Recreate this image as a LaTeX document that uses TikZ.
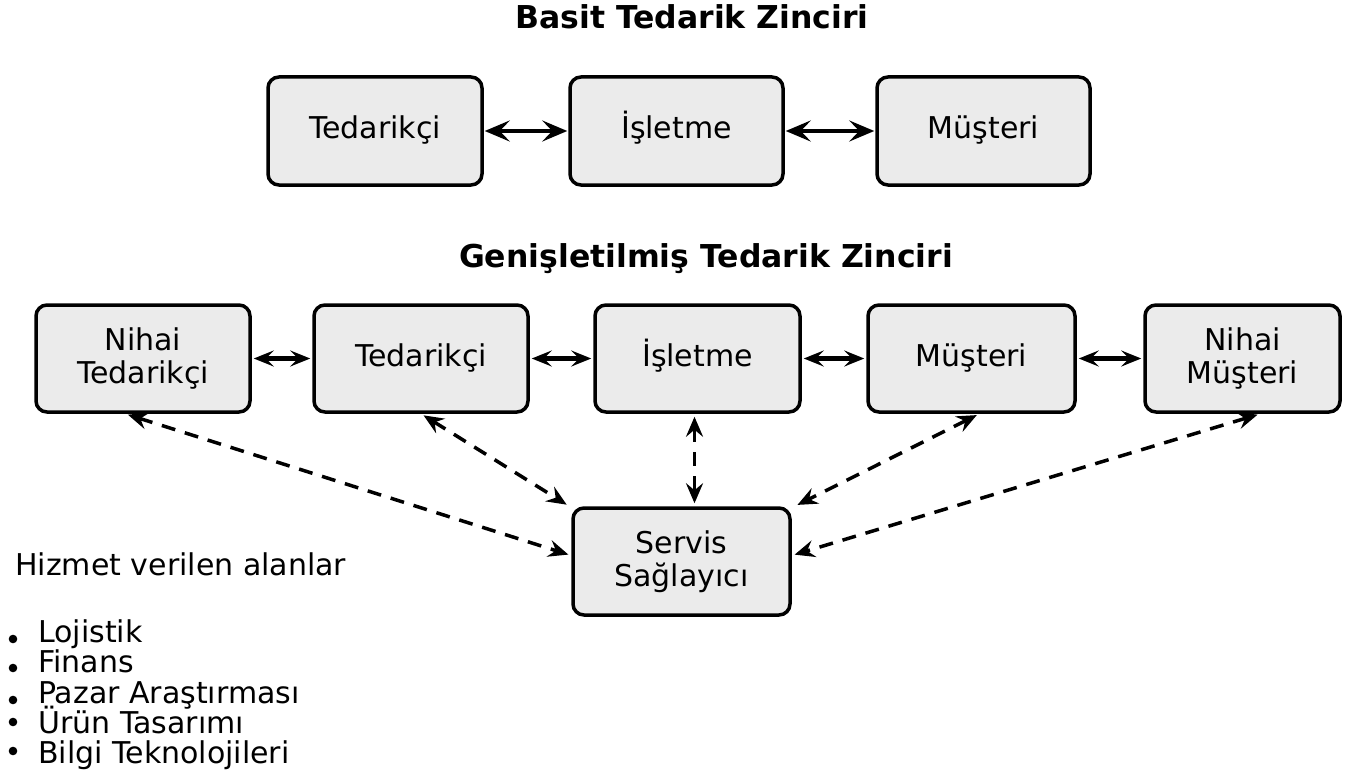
\documentclass[tikz,border=0pt]{standalone}
\usepackage{fontspec}
\setmainfont{DejaVu Sans}
\usetikzlibrary{arrows.meta}
\definecolor{boxfill}{HTML}{EBEBEB}
\tikzset{
  box/.style={draw=black, line width=3.5pt, fill=boxfill, rounded corners=11pt, align=center,
    font=\fontsize{30}{33}\selectfont, inner sep=0pt},
  one/.style={text height=22pt, text depth=7pt},
  ttl/.style={font=\fontsize{31.5}{34}\selectfont\bfseries, anchor=base, inner sep=0pt},
  tipbig/.tip={Stealth[length=25pt,width=21pt,inset=10pt]},
  tipsmall/.tip={Stealth[length=20pt,width=16pt,inset=8pt]},
  tipdash/.tip={Stealth[length=20pt,width=17pt,inset=7pt]},
  bigarr/.style={line width=4.5pt, tipbig-tipbig, shorten <=1pt, shorten >=1pt},
  smallarr/.style={line width=4.5pt, tipsmall-tipsmall, shorten <=2pt, shorten >=2pt},
  dasharr/.style={line width=3.5pt, dash pattern=on 14pt off 10pt, tipdash-tipdash, shorten <=3pt, shorten >=3pt},
  lst/.style={font=\fontsize{30}{33}\selectfont, anchor=base west, inner sep=0pt},
}
\begin{document}
\begin{tikzpicture}[x=1pt,y=-1pt]
\useasboundingbox (0,0) rectangle (1348,781);
% titles
\node[ttl] (t1) at (692,29) {Basit Tedarik Zinciri};
\node[ttl] (t2) at (706,267) {Genişletilmiş Tedarik Zinciri};
% top row
\node[box, one, minimum width=214pt, minimum height=108pt] (T1) at (375,131) {Tedarikçi};
\node[box, one, minimum width=213pt, minimum height=108pt] (I1) at (676.5,131) {İşletme};
\node[box, one, minimum width=213pt, minimum height=108pt] (M1) at (983.5,131) {Müşteri};
\draw[bigarr] (T1.east) -- (I1.west);
\draw[bigarr] (I1.east) -- (M1.west);
% bottom row
\node[box, minimum width=214pt, minimum height=107pt] (NT) at (143,358.5) {Nihai\\Tedarikçi};
\node[box, one, minimum width=214pt, minimum height=107pt] (T2) at (421,358.5) {Tedarikçi};
\node[box, one, minimum width=205pt, minimum height=107pt] (I2) at (697.5,358.5) {İşletme};
\node[box, one, minimum width=207pt, minimum height=107pt] (M2) at (971.5,358.5) {Müşteri};
\node[box, minimum width=195pt, minimum height=107pt] (NM) at (1242.5,358.5) {Nihai\\Müşteri};
\draw[smallarr] (NT.east) -- (T2.west);
\draw[smallarr] (T2.east) -- (I2.west);
\draw[smallarr] (I2.east) -- (M2.west);
\draw[smallarr] (M2.east) -- (NM.west);
% service provider
\node[box, minimum width=217pt, minimum height=107pt] (SS) at (681.5,561.5) {Servis\\Sağlayıcı};
\draw[dasharr] ([xshift=-18pt]NT.south) -- ([yshift=6pt]SS.west);
\draw[dasharr] (T2.south) -- ([xshift=-2pt]SS.north west);
\draw[dasharr] ([xshift=-3pt]I2.south) -- ([xshift=-3pt]I2.south |- SS.north);
\draw[dasharr] ([xshift=8pt]M2.south) -- ([xshift=3pt]SS.north east);
\draw[dasharr] ([xshift=18pt]NM.south) -- ([yshift=6pt]SS.east);
% list
\node[lst] (h) at (15,575) {Hizmet verilen alanlar};
\node[lst] (l1) at (38,642) {Lojistik};
\node[lst] (l2) at (38,672) {Finans};
\node[lst] (l3) at (38,703) {Pazar Araştırması};
\node[lst] (l4) at (38,733) {Ürün Tasarımı};
\node[lst] (l5) at (38,763) {Bilgi Teknolojileri};
\foreach \n/\dy in {l1/3,l2/4,l3/3,l4/11,l5/12}{
  \fill ([xshift=-25pt,yshift=\dy pt]\n.base west) circle (4.3pt);
}
\end{tikzpicture}
\end{document}
